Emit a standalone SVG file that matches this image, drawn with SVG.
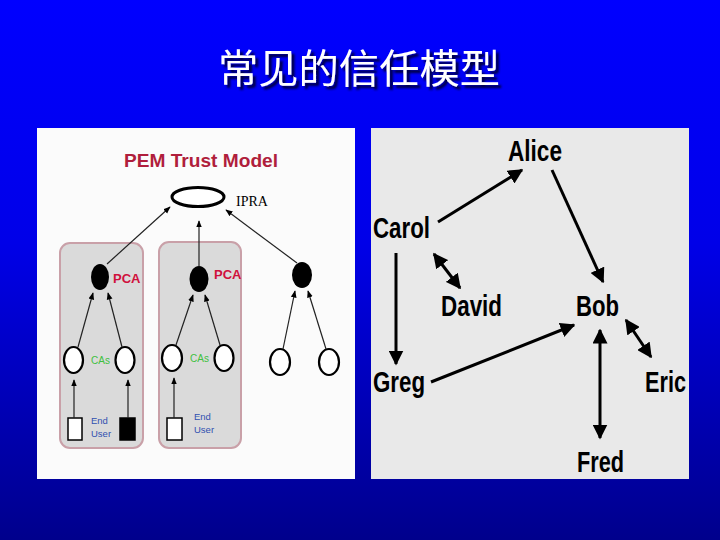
<svg xmlns="http://www.w3.org/2000/svg" width="720" height="540" viewBox="0 0 720 540">
<defs>
<linearGradient id="bg" x1="0" y1="0" x2="0" y2="1">
<stop offset="0" stop-color="#0000ff"/>
<stop offset="0.45" stop-color="#0000e8"/>
<stop offset="1" stop-color="#00008c"/>
</linearGradient>
<filter id="shadow" x="-10%" y="-20%" width="120%" height="150%">
<feDropShadow dx="3" dy="3" stdDeviation="0.8" flood-color="#000022" flood-opacity="0.85"/>
</filter>
<marker id="ah" viewBox="0 0 10 10" refX="9" refY="5" markerWidth="5" markerHeight="5" orient="auto-start-reverse" markerUnits="strokeWidth">
<path d="M0,0 L10,5 L0,10 z" fill="#000"/>
</marker>
<marker id="sh" viewBox="0 0 10 10" refX="9" refY="5" markerWidth="6" markerHeight="6" orient="auto-start-reverse" markerUnits="strokeWidth">
<path d="M0,1 L10,5 L0,9 z" fill="#000"/>
</marker>
<style>
.title{font-family:"Noto Sans CJK SC",sans-serif;font-size:40px;font-weight:400;fill:#fff}
.name{font-family:"Liberation Sans",Arial,sans-serif;font-weight:bold;font-size:29px;fill:#000}
.edge{stroke:#000;stroke-width:3;fill:none}
.thin{stroke:#222;stroke-width:1.2;fill:none}
.box{fill:#dadada;stroke:#c9a0a8;stroke-width:2}
.pca{font-family:"Liberation Sans",Arial,sans-serif;font-weight:bold;font-size:13px;fill:#d0103c}
.cas{font-family:"Liberation Sans",Arial,sans-serif;font-size:10px;fill:#40c040}
.eu{font-family:"Liberation Sans",Arial,sans-serif;font-size:9.5px;fill:#3050b0}
.circ{fill:#fff;stroke:#000;stroke-width:2.2}
.blk{fill:#000}
</style>
</defs>
<rect x="0" y="0" width="720" height="540" fill="url(#bg)"/>
<g id="title">
<text class="title" x="359" y="83" text-anchor="middle" filter="url(#shadow)" textLength="282" lengthAdjust="spacingAndGlyphs">常见的信任模型</text>
</g>

<g id="pem-panel">
<rect x="37" y="128" width="318" height="351" fill="#fbfbfb"/>
<text x="201" y="167" text-anchor="middle" font-family="Liberation Sans, Arial, sans-serif" font-weight="bold" font-size="18" fill="#b01e3c" textLength="154" lengthAdjust="spacingAndGlyphs">PEM Trust Model</text>
<g id="box1"><rect class="box" x="60" y="243" width="83" height="205" rx="10"/></g>
<g id="box2"><rect class="box" x="159" y="242" width="82" height="206" rx="10"/></g>
<g id="ipra">
<ellipse cx="198" cy="197" rx="26" ry="9.5" fill="#fff" stroke="#000" stroke-width="3"/>
<text x="236" y="206" font-family="Liberation Serif, serif" font-size="14" fill="#000">IPRA</text>
</g>
<g id="pca1"><ellipse class="blk" cx="100" cy="277" rx="9" ry="13"/><text class="pca" x="113" y="283">PCA</text></g>
<g id="pca2"><ellipse class="blk" cx="199" cy="279" rx="9.5" ry="13"/><text class="pca" x="214" y="279">PCA</text></g>
<g id="pca3"><ellipse class="blk" cx="302" cy="275" rx="10" ry="13"/></g>
<g id="ca1a"><ellipse class="circ" cx="73.5" cy="360" rx="9.5" ry="13"/></g>
<g id="ca1b"><ellipse class="circ" cx="125" cy="360" rx="9.5" ry="13"/></g>
<text class="cas" x="91" y="364">CAs</text>
<g id="ca2a"><ellipse class="circ" cx="172" cy="358" rx="10" ry="13"/></g>
<g id="ca2b"><ellipse class="circ" cx="224" cy="358" rx="9.5" ry="13"/></g>
<text class="cas" x="190" y="362">CAs</text>
<g id="ca3a"><ellipse class="circ" cx="280" cy="362" rx="10" ry="13"/></g>
<g id="ca3b"><ellipse class="circ" cx="329" cy="362" rx="10" ry="13"/></g>
<g id="eu1a"><rect x="68" y="418" width="14" height="22" fill="#fff" stroke="#000" stroke-width="1.5"/></g>
<g id="eu1b"><rect x="120" y="418" width="15" height="22" fill="#000" stroke="#000" stroke-width="1.5"/></g>
<text class="eu" x="91" y="424">End</text>
<text class="eu" x="91" y="437">User</text>
<g id="eu2"><rect x="167" y="418" width="15" height="22" fill="#fff" stroke="#000" stroke-width="1.5"/></g>
<text class="eu" x="194" y="420">End</text>
<text class="eu" x="194" y="433">User</text>
</g>

<g id="pem-connectors">
<line class="thin" x1="107" y1="264" x2="170" y2="207" marker-end="url(#sh)"/>
<line class="thin" x1="199" y1="266" x2="199" y2="221" marker-end="url(#sh)"/>
<line class="thin" x1="297" y1="263" x2="226" y2="210" marker-end="url(#sh)"/>
<line class="thin" x1="78" y1="347" x2="93" y2="293" marker-end="url(#sh)"/>
<line class="thin" x1="122" y1="347" x2="108" y2="293" marker-end="url(#sh)"/>
<line class="thin" x1="176" y1="345" x2="193" y2="295" marker-end="url(#sh)"/>
<line class="thin" x1="220" y1="345" x2="205" y2="295" marker-end="url(#sh)"/>
<line class="thin" x1="283" y1="349" x2="295" y2="291" marker-end="url(#sh)"/>
<line class="thin" x1="326" y1="349" x2="308" y2="291" marker-end="url(#sh)"/>
<line class="thin" x1="74" y1="418" x2="74" y2="380" marker-end="url(#sh)"/>
<line class="thin" x1="128" y1="418" x2="128" y2="380" marker-end="url(#sh)"/>
<line class="thin" x1="174" y1="418" x2="174" y2="378" marker-end="url(#sh)"/>
</g>

<g id="web-panel">
<rect x="371" y="128" width="318" height="351" fill="#e9e9e9"/>
</g>
<g id="alice"><text class="name" x="508" y="161" textLength="54" lengthAdjust="spacingAndGlyphs">Alice</text></g>
<g id="carol"><text class="name" x="373" y="238" textLength="57" lengthAdjust="spacingAndGlyphs">Carol</text></g>
<g id="david"><text class="name" x="441" y="316" textLength="61" lengthAdjust="spacingAndGlyphs">David</text></g>
<g id="bob"><text class="name" x="576" y="316" textLength="43" lengthAdjust="spacingAndGlyphs">Bob</text></g>
<g id="greg"><text class="name" x="373" y="392" textLength="52" lengthAdjust="spacingAndGlyphs">Greg</text></g>
<g id="eric"><text class="name" x="645" y="392" textLength="41" lengthAdjust="spacingAndGlyphs">Eric</text></g>
<g id="fred"><text class="name" x="577" y="472" textLength="47" lengthAdjust="spacingAndGlyphs">Fred</text></g>

<g id="web-connectors">
<line class="edge" x1="438" y1="222" x2="522" y2="170" marker-end="url(#ah)"/>
<line class="edge" x1="552" y1="170" x2="603" y2="282" marker-end="url(#ah)"/>
<line class="edge" x1="434" y1="254" x2="460" y2="288" marker-start="url(#ah)" marker-end="url(#ah)"/>
<line class="edge" x1="396" y1="253" x2="396" y2="364" marker-end="url(#ah)"/>
<line class="edge" x1="431" y1="382" x2="574" y2="325" marker-end="url(#ah)"/>
<line class="edge" x1="600" y1="330" x2="600" y2="438" marker-start="url(#ah)" marker-end="url(#ah)"/>
<line class="edge" x1="626" y1="320" x2="651" y2="357" marker-start="url(#ah)" marker-end="url(#ah)"/>
</g>
</svg>
